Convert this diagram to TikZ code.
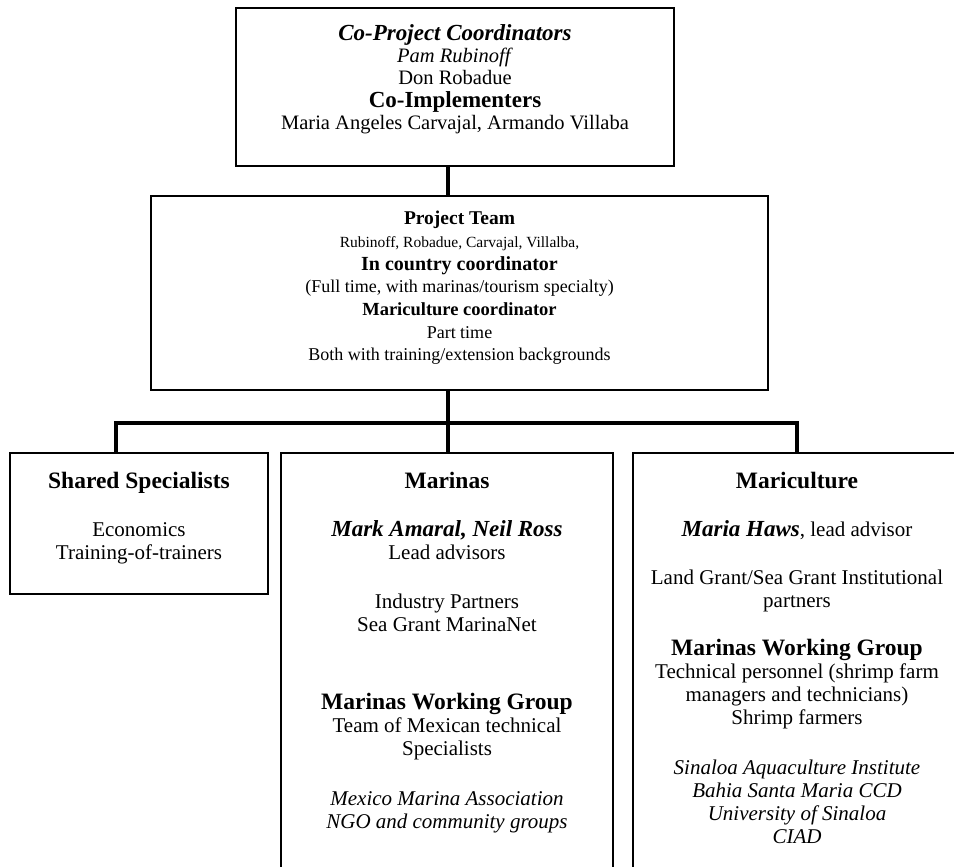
\documentclass[tikz,border=0pt]{standalone}
\usepackage{fontspec}
\setmainfont{Liberation Serif}
\begin{document}
\begin{tikzpicture}[x=1pt,y=-1pt,
  box/.style={draw, line width=1.6pt, inner sep=0pt},
  openbox/.style={draw=none, inner sep=0pt},
  link/.style={line width=3.4pt},
  txt/.style={align=center, inner sep=0pt, anchor=north}]
\useasboundingbox (0,0) rectangle (954,867);
% boxes
\node[box, minimum width=438pt, minimum height=158pt] (top) at (455,87) {};
\node[box, minimum width=617pt, minimum height=194pt] (team) at (459.5,293) {};
\node[box, minimum width=258pt, minimum height=141pt] (left) at (139,523.5) {};
\node[openbox, minimum width=332pt, minimum height=427pt] (mid) at (447,666.5) {};
\node[openbox, minimum width=328pt, minimum height=427pt] (right) at (797,666.5) {};
\draw[line width=1.6pt] (mid.south west) -- (mid.north west) -- (mid.north east) -- (mid.south east);
\draw[line width=1.6pt] (right.south west) -- (right.north west) -- (right.north east) -- (right.south east);
% connectors
\coordinate (spine) at (448,0);
\coordinate (busL) at (116,423);
\coordinate (busR) at (797,423);
\draw[link] (spine |- top.south) -- (spine |- team.north);
\draw[link] (spine |- team.south) -- (spine |- mid.north);
\draw[link] (busL |- left.north) -- (busL) -- (busR) -- (busR |- right.north);
% texts
\node[txt, font={\fontsize{20.5}{22.3}\selectfont}] (toptext) at (455,24)
  {{\fontsize{23}{22.3}\selectfont\textbf{\textit{Co-Project Coordinators}}}\\
   \textit{Pam Rubinoff}\\
   Don Robadue\\
   {\fontsize{23}{22.3}\selectfont\textbf{Co-Implementers}}\\
   Maria Angeles Carvajal, Armando Villaba};
\node[txt, font={\fontsize{18}{22.7}\selectfont}] (teamtext) at (459.5,211)
  {{\fontsize{19.5}{22.7}\selectfont\textbf{Project Team}}\\
   {\fontsize{15.5}{22.7}\selectfont Rubinoff, Robadue, Carvajal, Villalba,}\\
   {\fontsize{20}{22.7}\selectfont\textbf{In country coordinator}}\\
   (Full time, with marinas/tourism specialty)\\
   {\fontsize{18.5}{22.7}\selectfont\textbf{Mariculture coordinator}}\\
   Part time\\
   Both with training/extension backgrounds};
\node[txt, font={\fontsize{21}{23}\selectfont}] (lefttext) at (139,472)
  {{\fontsize{23.5}{23}\selectfont\textbf{Shared Specialists}}\\[25pt]
   Economics\\
   Training-of-trainers};
\node[txt, font={\fontsize{21}{23}\selectfont}] (midtext) at (447,472)
  {{\fontsize{23.5}{23}\selectfont\textbf{Marinas}}\\[25pt]
   {\fontsize{23}{23}\selectfont\textbf{\textit{Mark Amaral, Neil Ross}}}\\
   Lead advisors\\[26pt]
   Industry Partners\\
   Sea Grant MarinaNet\\[55pt]
   {\fontsize{23.5}{23}\selectfont\textbf{Marinas Working Group}}\\
   Team of Mexican technical\\
   Specialists\\[27pt]
   \textit{Mexico Marina Association}\\
   \textit{NGO and community groups}};
\node[txt, font={\fontsize{21}{23}\selectfont}] (righttext) at (797,472)
  {{\fontsize{23.5}{23}\selectfont\textbf{Mariculture}}\\[25pt]
   {\fontsize{23}{23}\selectfont\textbf{\textit{Maria Haws}}}, lead advisor\\[25pt]
   Land Grant/Sea Grant Institutional\\
   partners\\[25pt]
   {\fontsize{23.5}{23}\selectfont\textbf{Marinas Working Group}}\\
   Technical personnel (shrimp farm\\
   managers and technicians)\\
   Shrimp farmers\\[27pt]
   \textit{Sinaloa Aquaculture Institute}\\
   \textit{Bahia Santa Maria CCD}\\
   \textit{University of Sinaloa}\\
   \textit{CIAD}};
\end{tikzpicture}
\end{document}
